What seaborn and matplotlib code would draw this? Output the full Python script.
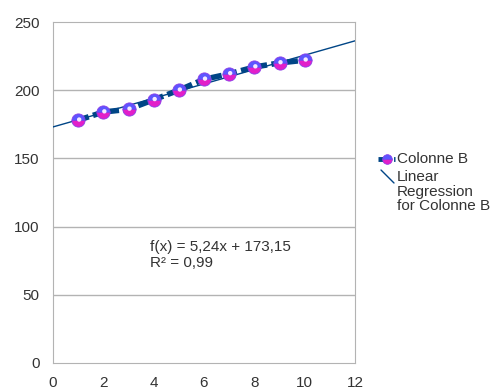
import numpy as np
import pandas as pd
import seaborn as sns
import matplotlib.pyplot as plt
from matplotlib.lines import Line2D

x_values = [1, 2, 3, 4, 5, 6, 7, 8, 9, 10]
colonne_b = [178, 184, 186, 193, 200, 208, 212, 217, 220, 222]
equation_text = "f(x) = 5,24x + 173,15\nR² = 0,99"
x_ticks = [0, 2, 4, 6, 8, 10, 12]
y_ticks = [0, 50, 100, 150, 200, 250]

df = pd.DataFrame({"x": x_values, "Colonne B": colonne_b})

sns.set_style("white")
plt.rcParams["font.family"] = ["Liberation Sans", "DejaVu Sans"]

fig = plt.figure(figsize=(4.97, 3.91), dpi=100)
ax = fig.add_axes([53 / 497, 1 - 363 / 391, 302 / 497, 341 / 391])

ax.set_xlim(0, 12)
ax.set_ylim(0, 250)

# horizontal grid
for yv in y_ticks[1:-1]:
    ax.axhline(yv, color="#b3b3b3", lw=1, zorder=0)

# data series: thick dashed line
sns.lineplot(data=df, x="x", y="Colonne B", ax=ax, color="#004586", lw=4,
             zorder=2)
ax.lines[-1].set_dashes([2.0, 0.8])

# regression line across the whole axis
sns.regplot(data=df, x="x", y="Colonne B", ax=ax, scatter=False, ci=None,
            truncate=False, line_kws={"color": "#004586", "lw": 1.0, "zorder": 3})

# sphere-like markers: blue top half, magenta bottom half, white highlight
sns.lineplot(data=df, x="x", y="Colonne B", ax=ax, linestyle="none",
             marker="o", markersize=9.5, fillstyle="bottom",
             markerfacecolor="#e21fc9", markerfacecoloralt="#5d55ff",
             markeredgecolor="#8a3ce8", markeredgewidth=0.6, zorder=4)
sns.scatterplot(x=np.array(x_values) + 0.04, y=np.array(colonne_b) + 0.5,
                ax=ax, s=10, color="#f6eaff", edgecolor="none", zorder=6,
                legend=False)

ax.text(3.85, 68, equation_text, fontsize=11, color="#333333",
        linespacing=1.2, va="bottom", ha="left")

ax.set_xticks(x_ticks)
ax.set_yticks(y_ticks)
ax.set_xlabel("")
ax.set_ylabel("")
for side in ["left", "right", "top", "bottom"]:
    ax.spines[side].set_visible(True)
    ax.spines[side].set_color("#b3b3b3")
ax.tick_params(axis="both", which="major", direction="out", length=6, width=1,
               color="#b3b3b3", labelcolor="#333333", labelsize=11)

# legend drawn by hand (diagonal symbol for the regression)
def fx(px):
    return px / 497

def fy(py):
    return 1 - py / 391

fig.add_artist(Line2D([fx(378), fx(395)], [fy(159), fy(159)], color="#004586",
                      lw=3.5, ls=(0, (1.0, 0.6))))
fig.add_artist(Line2D([fx(386.5)], [fy(158.5)], marker="o", markersize=7,
                      fillstyle="bottom", markerfacecolor="#e21fc9",
                      markerfacecoloralt="#5d55ff", markeredgecolor="#8a3ce8",
                      markeredgewidth=0.5))
fig.add_artist(Line2D([fx(381), fx(394)], [fy(170), fy(183)], color="#004586",
                      lw=1.0))
fig.text(fx(397), fy(159), "Colonne B", fontsize=11, color="#333333",
         va="center")
fig.text(fx(397), fy(170), "Linear\nRegression\nfor Colonne B", fontsize=11,
         color="#333333", va="top", linespacing=1.05)

fig.savefig("out.png", dpi=100)
